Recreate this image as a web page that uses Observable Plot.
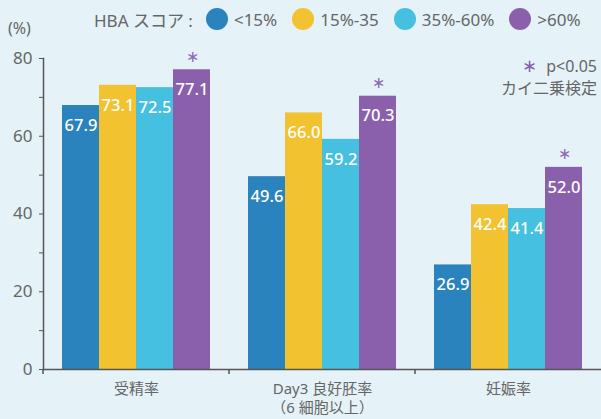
<!DOCTYPE html>
<html><head><meta charset="utf-8">
<script src="https://cdn.jsdelivr.net/npm/d3@7"></script>
<script src="https://cdn.jsdelivr.net/npm/@observablehq/plot@0.6"></script>
<style>
body{margin:0;background:#e5f2f8;}
#wrap{position:relative;width:601px;height:419px;background:#e5f2f8;font-family:"Noto Sans","Noto Sans CJK JP",sans-serif;color:#666;overflow:hidden;}
#wrap svg{position:absolute;left:0;top:0;}
.legend{position:absolute;left:94px;top:8px;height:22px;display:flex;align-items:center;font-size:17px;white-space:nowrap;}
.legend .title{margin-right:13px;}
.legend .sw{width:22px;height:22px;border-radius:50%;margin-right:6px;}
.legend .lab{margin-right:15px;}
.unit{position:absolute;left:8px;top:17px;font-size:16px;}
.note{position:absolute;right:4px;top:54px;text-align:right;font-size:16px;line-height:22px;}
.note .ast{color:#8a5fab;font-size:18px;margin-right:9px;}
</style></head><body><div id="wrap"></div><script>
const groups = ["受精率", "Day3 良好胚率\n（6 細胞以上）", "妊娠率"];
const series = ["<15%", "15%-35", "35%-60%", ">60%"];
const colors = ["#2a83bc", "#f2c230", "#45c0e0", "#8a5fab"];
const lt15 = [67.9, 49.6, 26.9];
const s15to35 = [73.1, 66.0, 42.4];
const s35to60 = [72.5, 59.2, 41.4];
const gt60 = [77.1, 70.3, 52.0];
const significantSeries = [">60%"];
const yTicks = [0, 10, 20, 30, 40, 50, 60, 70, 80];

const seriesValues = [lt15, s15to35, s35to60, gt60];
const rows = [];
groups.forEach((g, gi) => series.forEach((s, si) => rows.push({
  group: g, series: s, value: seriesValues[si][gi], sig: significantSeries.includes(s)
})));

function groupTicks(index, scales, values, dims) {
  const r = scales.x.range();
  const x0 = Math.min(r[0], r[1]);
  const yb = dims.height - dims.marginBottom;
  const g = document.createElementNS("http://www.w3.org/2000/svg", "g");
  const l = document.createElementNS("http://www.w3.org/2000/svg", "line");
  l.setAttribute("x1", x0); l.setAttribute("x2", x0);
  l.setAttribute("y1", yb); l.setAttribute("y2", yb + 5);
  l.setAttribute("stroke", "#555"); l.setAttribute("stroke-width", 1.5);
  g.appendChild(l);
  return g;
}

const chart = Plot.plot({
  width: 601, height: 419,
  marginTop: 58, marginBottom: 50, marginLeft: 42, marginRight: 0,
  style: {background: "transparent", fontFamily: '"Noto Sans","Noto Sans CJK JP",sans-serif', color: "#666"},
  fx: {domain: groups, padding: 0, label: null},
  x: {domain: series, paddingInner: 0, paddingOuter: 0.49, axis: null},
  y: {domain: [0, 80], label: null},
  color: {domain: series, range: colors},
  marks: [
    Plot.barY(rows, {fx: "group", x: "series", y: "value", fill: "series"}),
    Plot.text(rows, {fx: "group", x: "series", y: "value", text: d => d.value.toFixed(1), dy: 20, fill: "white", fontSize: 16.5, fontWeight: 500}),
    Plot.text(rows.filter(d => d.sig), {fx: "group", x: "series", y: "value", text: () => "∗", dy: -13, fill: "#9068b3", fontSize: 16}),
    Plot.axisY({ticks: yTicks, tickFormat: d => d % 20 === 0 ? d : "", tickSize: 4, tickPadding: 7, fontSize: 17, stroke: "#555", label: null}),
    Plot.axisFx({anchor: "bottom", tickSize: 0, tickPadding: 11, fontSize: 15, lineHeight: 1.27, label: null}),
    Plot.frame({anchor: "left", facet: "super", stroke: "#555", strokeWidth: 1.5}),
    Plot.ruleY([0], {stroke: "#555", strokeWidth: 1.5}),
    groupTicks
  ]
});

const wrap = document.getElementById("wrap");
wrap.appendChild(chart);

const unit = document.createElement("div");
unit.className = "unit"; unit.textContent = "(%)";
wrap.appendChild(unit);

const legend = document.createElement("div");
legend.className = "legend";
const t = document.createElement("span"); t.className = "title"; t.textContent = "HBA スコア :";
legend.appendChild(t);
series.forEach((s, i) => {
  const sw = document.createElement("span"); sw.className = "sw"; sw.style.background = colors[i];
  const lab = document.createElement("span"); lab.className = "lab"; lab.textContent = s;
  legend.appendChild(sw); legend.appendChild(lab);
});
wrap.appendChild(legend);

const note = document.createElement("div");
note.className = "note";
note.innerHTML = '<div><span class="ast">∗</span>p&lt;0.05</div><div>カイ二乗検定</div>';
wrap.appendChild(note);
</script></body></html>
